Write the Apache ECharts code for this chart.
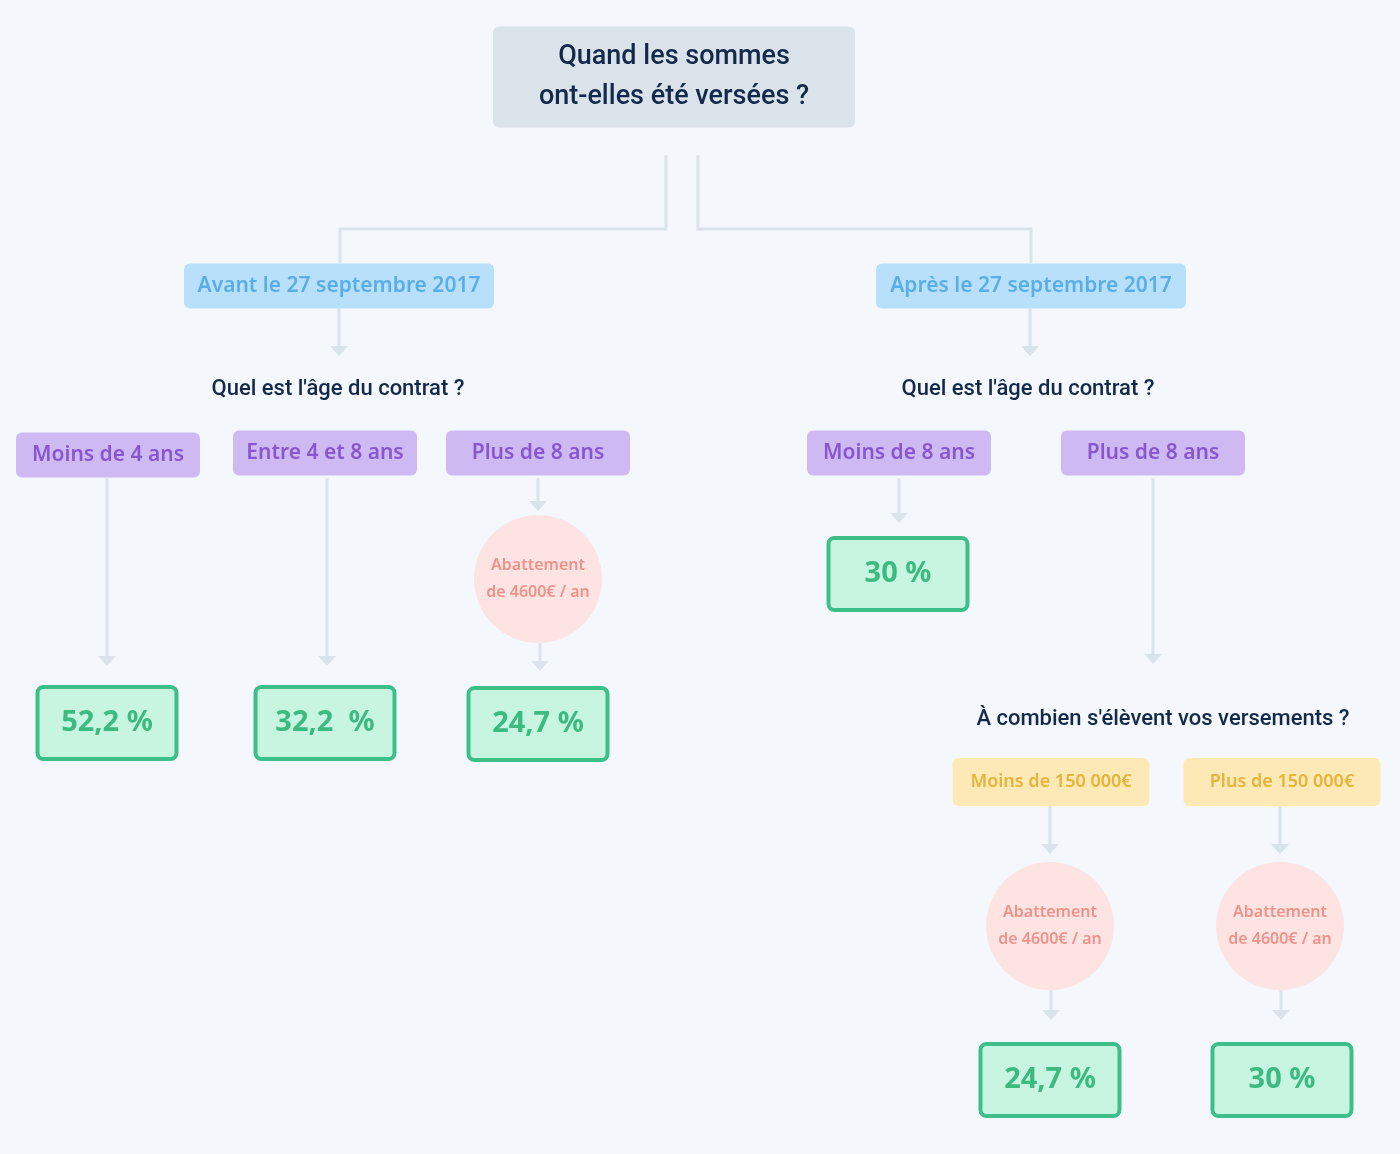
<!DOCTYPE html>
<html>
<head>
<meta charset="utf-8">
<script src="https://cdn.jsdelivr.net/npm/echarts@6/dist/echarts.min.js"></script>
<style>
  html, body { margin: 0; padding: 0; background: #f4f8fd; }
  #chart { width: 1400px; height: 1154px; }
</style>
</head>
<body>
<div id="chart"></div>
<script>
// textes des noeuds
var titleText = 'Quand les sommes\nont-elles été versées ?';
var periodes = ['Avant le 27 septembre 2017', 'Après le 27 septembre 2017'];
var questions = ["Quel est l'âge du contrat ?", "Quel est l'âge du contrat ?", "À combien s'élèvent vos versements ?"];
var ages = ['Moins de 4 ans', 'Entre 4 et 8 ans', 'Plus de 8 ans', 'Moins de 8 ans', 'Plus de 8 ans'];
var montants = ['Moins de 150 000€', 'Plus de 150 000€'];
var abattement = 'Abattement\nde 4600€ / an';
var taux = ['52,2 %', '32,2  %', '24,7 %', '30 %', '24,7 %', '30 %'];

var styles = {
  title:    { fill: '#dbe3ea', color: '#13294b', size: 27, font: 'Roboto', weight: 500, lh: 40 },
  blue:     { fill: '#b8e0fb', color: '#5aaee8', size: 21, font: 'Noto Sans', weight: 600 },
  purple:   { fill: '#cfb9f3', color: '#8857d0', size: 21, font: 'Noto Sans', weight: 600 },
  yellow:   { fill: '#fde9b6', color: '#e6b43a', size: 18, font: 'Noto Sans', weight: 600 },
  circle:   { fill: '#fde4e2', color: '#f0928a', size: 16, font: 'Noto Sans', weight: 600, lh: 27 },
  result:   { fill: '#c8f5e0', color: '#3bbb82', size: 29, font: 'Noto Sans', weight: 700, stroke: '#3dbf8a' },
  question: { fill: null, color: '#13294b', size: 22, font: 'Roboto', weight: 500 }
};

// mise en page : [texte, type, cx, cy, w, h]
var nodes = [
  [titleText, 'title', 674, 77, 362, 101],
  [periodes[0], 'blue', 339, 286, 310, 45],
  [periodes[1], 'blue', 1031, 286, 310, 45],
  [questions[0], 'question', 338, 389, 0, 0],
  [questions[1], 'question', 1028, 389, 0, 0],
  [questions[2], 'question', 1163, 719, 0, 0],
  [ages[0], 'purple', 108, 455, 184, 45],
  [ages[1], 'purple', 325, 453, 184, 45],
  [ages[2], 'purple', 538, 453, 184, 45],
  [ages[3], 'purple', 899, 453, 184, 45],
  [ages[4], 'purple', 1153, 453, 184, 45],
  [abattement, 'circle', 538, 579, 128, 128],
  [abattement, 'circle', 1050, 926, 128, 128],
  [abattement, 'circle', 1280, 926, 128, 128],
  [montants[0], 'yellow', 1051, 782, 197, 48],
  [montants[1], 'yellow', 1282, 782, 197, 48],
  [taux[0], 'result', 107, 723, 139, 72],
  [taux[1], 'result', 325, 723, 139, 72],
  [taux[2], 'result', 538, 724, 139, 72],
  [taux[3], 'result', 898, 574, 139, 72],
  [taux[4], 'result', 1050, 1080, 139, 72],
  [taux[5], 'result', 1282, 1080, 139, 72]
];

// liaisons : points, flèche ou non
var edges = [
  [[[666, 155], [666, 229], [340, 229], [340, 263]], false],
  [[[698, 155], [698, 229], [1031, 229], [1031, 263]], false],
  [[[339, 308], [339, 356]], true],
  [[[1030, 308], [1030, 356]], true],
  [[[107, 478], [107, 666]], true],
  [[[327, 478], [327, 666]], true],
  [[[538, 478], [538, 511]], true],
  [[[540, 643], [540, 671]], true],
  [[[899, 478], [899, 523]], true],
  [[[1153, 478], [1153, 664]], true],
  [[[1050, 806], [1050, 854]], true],
  [[[1280, 806], [1280, 854]], true],
  [[[1051, 990], [1051, 1020]], true],
  [[[1281, 990], [1281, 1020]], true]
];

var lineColor = '#dae2ea';
var elements = [];

edges.forEach(function (e) {
  var pts = e[0];
  var last = pts[pts.length - 1];
  var end = e[1] ? [[last[0], last[1] - 8]] : [];
  elements.push({
    type: 'polyline',
    shape: { points: pts.slice(0, pts.length - (e[1] ? 1 : 0)).concat(end) },
    style: { stroke: lineColor, lineWidth: 3, fill: null }
  });
  if (e[1]) {
    elements.push({
      type: 'polygon',
      shape: { points: [[last[0] - 9, last[1] - 10], [last[0] + 9, last[1] - 10], [last[0], last[1]]] },
      style: { fill: lineColor }
    });
  }
});

nodes.forEach(function (n) {
  var s = styles[n[1]];
  var cx = n[2], cy = n[3], w = n[4], h = n[5];
  if (n[1] === 'circle') {
    elements.push({ type: 'circle', shape: { cx: cx, cy: cy, r: w / 2 }, style: { fill: s.fill } });
  } else if (s.fill) {
    elements.push({
      type: 'rect',
      shape: { x: cx - w / 2, y: cy - h / 2, width: w, height: h, r: 6 },
      style: { fill: s.fill, stroke: s.stroke || null, lineWidth: s.stroke ? 4 : 0 }
    });
  }
  elements.push({
    type: 'text',
    x: cx, y: cy,
    style: {
      text: n[0], fill: s.color, fontSize: s.size, fontFamily: s.font,
      fontWeight: s.weight, align: 'center', verticalAlign: 'middle',
      lineHeight: s.lh || s.size * 1.2
    }
  });
});

var myChart = echarts.init(document.getElementById('chart'));
myChart.setOption({
  backgroundColor: '#f4f8fd',
  graphic: { elements: elements }
});
</script>
</body>
</html>
